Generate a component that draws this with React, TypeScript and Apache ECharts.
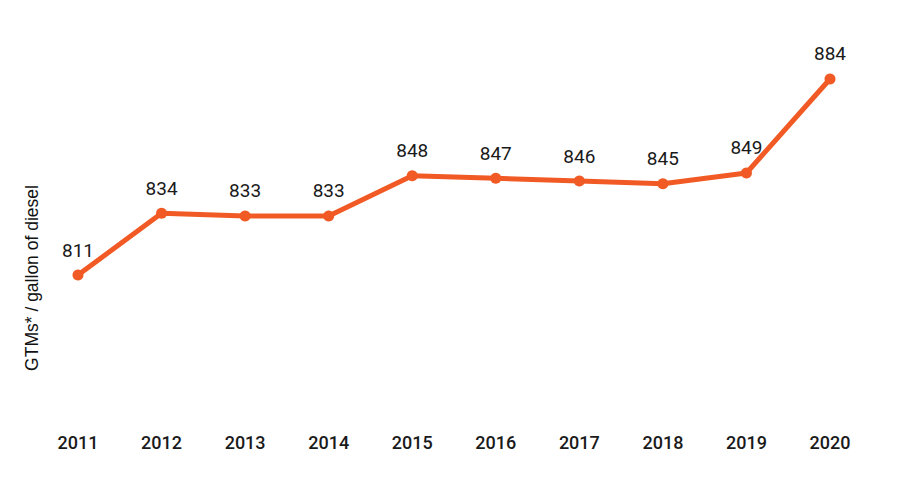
import React, { useEffect, useRef } from "react";
import * as echarts from "echarts";

const years = ["2011", "2012", "2013", "2014", "2015", "2016", "2017", "2018", "2019", "2020"];
const gtms = [811, 834, 833, 833, 848, 847, 846, 845, 849, 884];
const yName = "GTMs* / gallon of diesel";

const COLOR = "#F15A24";
const FONT = "Roboto, sans-serif";

export default function App() {
  const ref = useRef<HTMLDivElement>(null);
  useEffect(() => {
    const chart = echarts.init(ref.current!, null, { renderer: "svg" });
    chart.setOption({
      animation: false,
      backgroundColor: "#ffffff",
      grid: { left: 70, right: 61, top: 28, bottom: 58 },
      xAxis: {
        type: "category",
        data: years,
        boundaryGap: false,
        axisLine: { show: false },
        axisTick: { show: false },
        axisLabel: {
          margin: 21,
          color: "#1a1a1a",
          fontSize: 18,
          fontWeight: 500,
          fontFamily: FONT,
        },
      },
      yAxis: {
        type: "value",
        min: 760,
        max: 900,
        show: false,
        splitLine: { show: false },
      },
      graphic: [
        {
          type: "text",
          x: 24,
          y: 270,
          rotation: Math.PI / 2,
          style: {
            text: yName,
            fill: "#111111",
            fontSize: 17.5,
            fontFamily: "'Liberation Sans', Arial, sans-serif",
            align: "center",
            verticalAlign: "middle",
          },
        },
      ],
      series: [
        {
          type: "line",
          data: gtms,
          symbol: "circle",
          symbolSize: 11,
          lineStyle: { color: COLOR, width: 5 },
          itemStyle: { color: COLOR },
          label: {
            show: true,
            position: "top",
            distance: 10,
            color: "#1a1a1a",
            fontSize: 19,
            fontFamily: FONT,
          },
        },
      ],
    });
    return () => chart.dispose();
  }, []);
  return <div ref={ref} style={{ width: 883, height: 462 }} />;
}
